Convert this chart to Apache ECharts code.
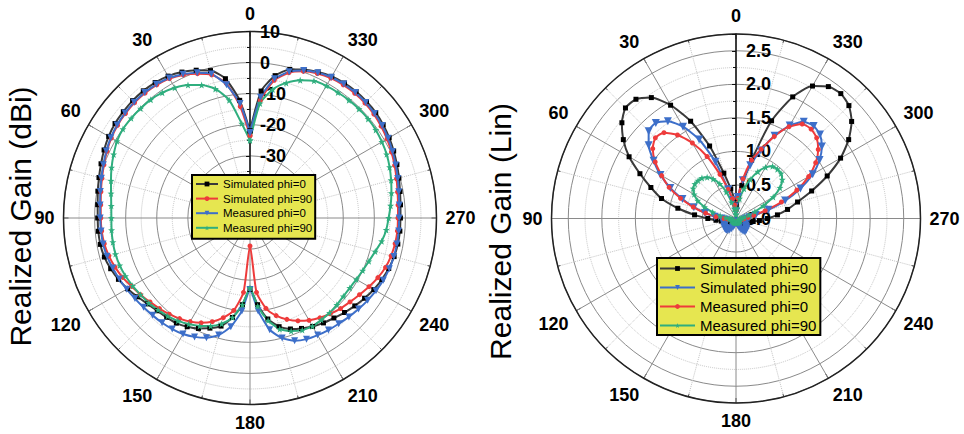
<!DOCTYPE html>
<html><head><meta charset="utf-8">
<script src="https://cdn.jsdelivr.net/npm/echarts@6/dist/echarts.min.js"></script>
<style>html,body{margin:0;padding:0;background:#fff;}#c{width:964px;height:434px;}</style>
</head><body><div id="c"></div>
<script>
// angles (degrees, counter-clockwise from top)
const angles = [0,5,10,15,20,25,30,35,40,45,50,55,60,65,70,75,80,85,90,95,100,105,110,115,
  120,125,130,135,140,145,150,155,160,165,170,175,180,185,190,195,200,205,210,215,220,225,230,235,
  240,245,250,255,260,265,270,275,280,285,290,295,300,305,310,315,320,325,330,335,340,345,350,355];

// Left chart: Realized Gain (dBi)
const dbSimPhi0 = [-22,-12,-4.5,-0.9,0.6,1.8,2.7,3.2,3.4,3.4,3.2,3.0,
  2.5,1.8,1.0,0.3,-0.3,-0.8,-1.0,-1.0,-1.1,-1.5,-2.3,-3.3,
  -4.5,-5.8,-7.0,-7.8,-8.3,-8.7,-9.6,-10.8,-12.3,-14.0,-17.5,-22,
  -27,-22,-17,-13.8,-12.0,-10.8,-9.7,-8.8,-8.0,-7.0,-6.0,-5.0,
  -4.0,-3.2,-2.5,-2.0,-1.7,-1.6,-1.6,-1.4,-1.0,-0.4,0.3,1.0,
  1.7,2.3,2.8,3.0,3.1,3.0,2.6,1.8,0.8,-0.5,-3.5,-9];
const dbSimPhi90 = [-23.5,-14,-6,-2.3,-0.6,0.8,1.8,2.3,2.5,2.5,2.3,2.0,
  1.5,0.8,0.0,-0.7,-1.3,-1.8,-2.0,-2.1,-2.4,-3.0,-3.8,-4.8,
  -6.0,-7.0,-8.0,-8.8,-9.6,-10.5,-11.5,-12.8,-14.5,-16.8,-19.8,-26,
  -41,-26,-20.5,-17.5,-15.3,-13.5,-12.0,-10.8,-9.8,-8.8,-8.0,-7.0,
  -5.8,-4.6,-3.6,-3.0,-2.6,-2.4,-2.4,-2.2,-1.8,-1.2,-0.5,0.2,
  0.9,1.5,2.0,2.3,2.4,2.3,2.0,1.3,0.2,-1.6,-5.0,-12];
const dbMeasPhi0 = [-22.5,-13,-6.5,-2.0,-0.3,1.0,2.0,2.5,2.7,2.7,2.5,2.2,
  1.7,1.0,0.2,-0.5,-1.1,-1.6,-1.8,-1.9,-2.0,-2.4,-3.0,-3.6,
  -4.2,-4.8,-5.3,-5.7,-6.0,-6.4,-6.9,-7.8,-9.0,-11,-14.5,-20,
  -27,-20,-13.5,-10,-8.0,-7.0,-6.5,-6.0,-5.6,-5.0,-4.4,-3.8,
  -3.2,-2.7,-2.3,-2.1,-2.0,-2.0,-2.0,-1.8,-1.4,-0.8,-0.1,0.6,
  1.3,1.9,2.3,2.6,2.7,2.6,2.3,1.6,0.5,-1.3,-4.5,-11];
const dbMeasPhi90 = [-25,-19.5,-11.5,-7,-4.5,-2.8,-1.6,-0.8,-0.3,-0.2,-0.1,-0.1,
  -0.6,-1.6,-2.6,-3.7,-4.6,-5.2,-5.4,-5.3,-5.2,-5.2,-5.4,-5.8,
  -6.4,-7.0,-7.5,-8.2,-8.8,-9.6,-10.6,-11.7,-13.0,-14.8,-17.5,-22,
  -27.5,-21.5,-16.5,-13,-11.3,-10.2,-9.8,-10.0,-10.2,-10.5,-10.8,-10.8,
  -10.5,-10.0,-9.3,-8.3,-7.0,-6.0,-5.4,-4.6,-3.8,-3.0,-2.2,-1.5,
  -1.0,-0.6,-0.4,-0.4,-0.5,-0.7,-0.9,-1.3,-2.8,-5,-8,-13];

// Right chart: Realized Gain (Lin)
const linSimPhi0 = [0.2,0.3,0.45,0.7,1.15,1.6,1.95,2.2,2.32,2.33,2.22,2.05,
  1.84,1.58,1.35,1.15,0.88,0.62,0.42,0.3,0.22,0.16,0.12,0.1,
  0.09,0.09,0.1,0.1,0.1,0.09,0.08,0.07,0.06,0.05,0.05,0.05,
  0.05,0.05,0.05,0.06,0.07,0.08,0.09,0.1,0.1,0.1,0.1,0.1,
  0.11,0.13,0.16,0.2,0.26,0.35,0.47,0.62,0.78,0.95,1.2,1.5,
  1.8,2.05,2.25,2.38,2.43,2.4,2.28,2.0,1.55,0.9,0.5,0.3];
const linSimPhi90 = [0.1,0.18,0.28,0.45,0.9,1.3,1.58,1.77,1.86,1.84,1.7,1.5,
  1.3,1.08,0.85,0.65,0.47,0.32,0.22,0.17,0.15,0.15,0.16,0.18,
  0.2,0.21,0.22,0.22,0.22,0.21,0.19,0.16,0.13,0.1,0.07,0.05,
  0.04,0.05,0.07,0.1,0.14,0.18,0.21,0.23,0.23,0.22,0.2,0.18,
  0.16,0.15,0.14,0.13,0.13,0.14,0.16,0.2,0.3,0.5,0.78,1.06,
  1.32,1.52,1.67,1.77,1.8,1.76,1.6,1.36,1.08,0.82,0.58,0.32];
const linMeasPhi0 = [0.12,0.2,0.3,0.45,0.7,1.02,1.3,1.52,1.67,1.7,1.62,1.47,
  1.28,1.1,0.88,0.66,0.46,0.3,0.18,0.12,0.08,0.07,0.06,0.06,
  0.06,0.06,0.06,0.06,0.06,0.05,0.05,0.05,0.05,0.05,0.05,0.05,
  0.05,0.05,0.05,0.05,0.05,0.05,0.05,0.05,0.06,0.06,0.06,0.06,
  0.06,0.06,0.06,0.07,0.08,0.1,0.12,0.18,0.27,0.45,0.72,1.0,
  1.25,1.45,1.6,1.7,1.74,1.72,1.58,1.35,1.1,0.9,0.6,0.3];
const linMeasPhi90 = [0.06,0.1,0.15,0.25,0.42,0.57,0.68,0.75,0.79,0.8,0.8,0.78,
  0.72,0.63,0.5,0.36,0.24,0.15,0.1,0.08,0.07,0.06,0.06,0.06,
  0.06,0.06,0.06,0.06,0.06,0.06,0.06,0.06,0.06,0.06,0.06,0.06,
  0.06,0.06,0.06,0.06,0.06,0.06,0.06,0.06,0.06,0.06,0.06,0.06,
  0.06,0.06,0.06,0.06,0.06,0.06,0.06,0.09,0.13,0.2,0.3,0.45,
  0.64,0.8,0.9,0.95,0.96,0.95,0.88,0.77,0.62,0.46,0.3,0.15];

const legendNames = ['Simulated phi=0','Simulated phi=90','Measured phi=0','Measured phi=90'];
const leftTicks = [10,0,-10,-20,-30];
const rightTicks = [0,0.5,1,1.5,2,2.5];

const FONT = 'Liberation Sans, Arial, Helvetica, sans-serif';
const STAR = 'path://M0,-10L2.35,-3.24L9.51,-3.09L3.8,1.24L5.88,8.09L0,4.2L-5.88,8.09L-3.8,1.24L-9.51,-3.09L-2.35,-3.24Z';

function toPolar(vals){
  const d = vals.map((v,i)=>[v, angles[i]]);
  d.push([vals[0], 360]);
  return d;
}
function mk(name, pi, vals, color, lineColor, symbol, size, rot){
  return {name, type:'line', coordinateSystem:'polar', polarIndex:pi, data:toPolar(vals),
    symbol, symbolSize:size, symbolRotate:rot||0, showSymbol:true, smooth:0.2, clip:false,
    lineStyle:{color:lineColor, width:2}, itemStyle:{color}, emphasis:{disabled:true},
    animation:false, silent:true};
}
function angleAxis(i){
  return {polarIndex:i, type:'value', min:0, max:360, interval:30, startAngle:90, clockwise:false,
    axisLine:{show:true, lineStyle:{color:'#222', width:1.5}},
    axisTick:{show:true, inside:true, length:5, lineStyle:{color:'#222', width:1}},
    minorTick:{show:true, splitNumber:2, length:3, lineStyle:{color:'#222'}},
    axisLabel:{show:true, margin:9, color:'#000', fontSize:18, fontWeight:'bold', fontFamily:FONT,
      formatter:v=> v===360 ? '' : String(v)},
    splitLine:{show:true, lineStyle:{color:'#8a8a8a', width:1}},
    minorSplitLine:{show:true, lineStyle:{color:'#c4c4c4', width:1, type:'dotted'}}};
}
function radiusAxis(i, min, max, interval, ticks, fmt){
  return {polarIndex:i, type:'value', min, max, interval,
    axisLine:{show:true, lineStyle:{color:'#111', width:1.5}},
    axisTick:{show:true, length:4, lineStyle:{color:'#111'}},
    minorTick:{show:true, splitNumber:2, length:3, lineStyle:{color:'#111'}},
    axisLabel:{show:true, color:'#000', fontSize:18, fontWeight:'bold', fontFamily:FONT,
      margin:-10, align:'left', verticalAlign:'middle',
      formatter:v=> ticks.some(t=>Math.abs(t-v)<1e-6) ? fmt(v) : ''},
    splitLine:{show:true, lineStyle:{color:'#8a8a8a', width:1}},
    minorSplitLine:{show:true, lineStyle:{color:'#c4c4c4', width:1, type:'dotted'}}};
}

const chart = echarts.init(document.getElementById('c'), null, {renderer:'svg'});
chart.setOption({
  animation:false,
  backgroundColor:'#fff',
  polar:[{center:[250,218], radius:186.5},{center:[736,218.5], radius:184.5}],
  angleAxis:[angleAxis(0), angleAxis(1)],
  radiusAxis:[radiusAxis(0,-50,10,10,leftTicks,v=>String(v)),
              radiusAxis(1,0,2.75,0.5,rightTicks,v=>v.toFixed(1))],
  legend:[
    {data:legendNames.map(n=>'L|'+n), formatter:n=>n.slice(2), orient:'vertical', left:192, top:175,
     itemWidth:22, itemHeight:6, itemGap:2.6, padding:[3,3,5,3], backgroundColor:'#e6e650',
     borderColor:'#000', borderWidth:2, borderRadius:0, selectedMode:false,
     textStyle:{fontSize:11.5, color:'#000', fontFamily:FONT}},
    {data:legendNames.map(n=>'R|'+n), formatter:n=>n.slice(2), orient:'vertical', left:657, top:258,
     itemWidth:35, itemHeight:6, itemGap:4, padding:[3,4,2,2], backgroundColor:'#e6e650',
     borderColor:'#000', borderWidth:2, borderRadius:0, selectedMode:false,
     textStyle:{fontSize:15, color:'#000', fontFamily:FONT}}
  ],
  graphic:[
    {type:'text', x:20.5, y:216.5, rotation:Math.PI/2,
     style:{text:'Realized Gain (dBi)', font:'30px '+FONT, fill:'#000', align:'center', verticalAlign:'middle', textAlign:'center', textVerticalAlign:'middle'}},
    {type:'text', x:500.5, y:231.5, rotation:Math.PI/2,
     style:{text:'Realized Gain (Lin)', font:'30px '+FONT, fill:'#000', align:'center', verticalAlign:'middle', textAlign:'center', textVerticalAlign:'middle'}}
  ],
  series:[
    mk('L|Simulated phi=0',0,dbSimPhi0,'#000','#3a3a3a','rect',5),
    mk('L|Simulated phi=90',0,dbSimPhi90,'#ee3b3b','#ee3b3b','circle',5),
    mk('L|Measured phi=0',0,dbMeasPhi0,'#3d6fc9','#3d6fc9','triangle',7,180),
    mk('L|Measured phi=90',0,dbMeasPhi90,'#2fae7e','#2fae7e',STAR,7),
    mk('R|Simulated phi=0',1,linSimPhi0,'#000','#3a3a3a','rect',5),
    mk('R|Simulated phi=90',1,linSimPhi90,'#3d6fc9','#3d6fc9','triangle',8,180),
    mk('R|Measured phi=0',1,linMeasPhi0,'#ee3b3b','#ee3b3b','circle',5),
    mk('R|Measured phi=90',1,linMeasPhi90,'#2fae7e','#2fae7e',STAR,7)
  ]
});
</script></body></html>
